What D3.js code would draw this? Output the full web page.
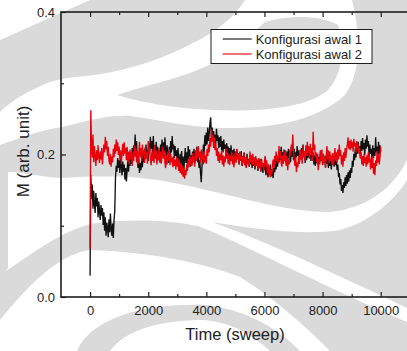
<!DOCTYPE html>
<html>
<head>
<meta charset="utf-8">
<script src="https://cdn.jsdelivr.net/npm/d3@7"></script>
<style>
  html, body { margin: 0; padding: 0; background: #fff; }
  svg { display: block; font-family: "Liberation Sans", Arial, Helvetica, sans-serif; }
</style>
</head>
<body>
<svg id="chart" width="407" height="351"></svg>
<script>
// Magnetisation M against Monte Carlo time, sampled every 25 sweeps (0 ... 10000).
const SAMPLE_STEP = 25;

const awal1 = [
  0.030, 0.172, 0.138, 0.158, 0.124, 0.149, 0.131, 0.118, 0.146, 0.127, 0.139, 0.112, 0.134, 0.121, 0.108, 0.129, 0.114, 0.125, 0.101, 0.119,
  0.093, 0.112, 0.086, 0.104, 0.097, 0.084, 0.109, 0.091, 0.117, 0.095, 0.086, 0.103, 0.083, 0.108, 0.121, 0.168, 0.184, 0.176, 0.195, 0.181,
  0.192, 0.174, 0.198, 0.183, 0.171, 0.190, 0.176, 0.186, 0.165, 0.181, 0.162, 0.178, 0.191, 0.176, 0.197, 0.184, 0.201, 0.187, 0.209, 0.193,
  0.213, 0.198, 0.228, 0.204, 0.219, 0.192, 0.181, 0.196, 0.174, 0.188, 0.178, 0.193, 0.182, 0.201, 0.189, 0.208, 0.193, 0.214, 0.196, 0.207,
  0.191, 0.216, 0.202, 0.225, 0.208, 0.219, 0.197, 0.226, 0.205, 0.213, 0.194, 0.218, 0.201, 0.211, 0.192, 0.206, 0.189, 0.214, 0.198, 0.221,
  0.203, 0.217, 0.196, 0.224, 0.208, 0.192, 0.213, 0.199, 0.188, 0.211, 0.197, 0.219, 0.203, 0.226, 0.207, 0.214, 0.195, 0.212, 0.198, 0.206,
  0.188, 0.209, 0.193, 0.179, 0.201, 0.186, 0.205, 0.182, 0.197, 0.176, 0.194, 0.209, 0.188, 0.203, 0.186, 0.212, 0.194, 0.207, 0.183, 0.199,
  0.185, 0.204, 0.191, 0.208, 0.187, 0.203, 0.195, 0.211, 0.189, 0.199, 0.181, 0.192, 0.174, 0.161, 0.183, 0.198, 0.214, 0.203, 0.227, 0.212,
  0.231, 0.214, 0.238, 0.219, 0.229, 0.244, 0.252, 0.226, 0.238, 0.218, 0.233, 0.212, 0.228, 0.215, 0.236, 0.219, 0.227, 0.209, 0.224, 0.211,
  0.226, 0.206, 0.219, 0.203, 0.221, 0.208, 0.214, 0.197, 0.216, 0.202, 0.211, 0.195, 0.209, 0.198, 0.213, 0.194, 0.206, 0.191, 0.208, 0.196,
  0.204, 0.189, 0.207, 0.193, 0.202, 0.186, 0.199, 0.191, 0.205, 0.184, 0.198, 0.188, 0.203, 0.185, 0.196, 0.182, 0.201, 0.189, 0.194, 0.183,
  0.199, 0.186, 0.193, 0.181, 0.197, 0.184, 0.191, 0.179, 0.195, 0.186, 0.192, 0.177, 0.188, 0.181, 0.194, 0.176, 0.189, 0.183, 0.174, 0.186,
  0.178, 0.189, 0.171, 0.184, 0.175, 0.168, 0.182, 0.172, 0.186, 0.169, 0.179, 0.173, 0.167, 0.181, 0.175, 0.188, 0.179, 0.194, 0.183, 0.198,
  0.189, 0.206, 0.192, 0.211, 0.196, 0.203, 0.188, 0.207, 0.193, 0.199, 0.186, 0.204, 0.191, 0.208, 0.195, 0.202, 0.189, 0.211, 0.197, 0.205,
  0.192, 0.208, 0.189, 0.203, 0.196, 0.212, 0.198, 0.206, 0.187, 0.201, 0.194, 0.209, 0.197, 0.214, 0.199, 0.205, 0.188, 0.203, 0.192, 0.208,
  0.195, 0.211, 0.198, 0.206, 0.191, 0.209, 0.196, 0.203, 0.186, 0.199, 0.184, 0.197, 0.188, 0.201, 0.185, 0.196, 0.189, 0.204, 0.191, 0.199,
  0.186, 0.201, 0.188, 0.197, 0.182, 0.199, 0.187, 0.194, 0.181, 0.196, 0.184, 0.192, 0.179, 0.194, 0.186, 0.198, 0.183, 0.193, 0.185, 0.191,
  0.178, 0.186, 0.168, 0.174, 0.158, 0.166, 0.149, 0.157, 0.146, 0.161, 0.153, 0.168, 0.156, 0.171, 0.159, 0.175, 0.162, 0.178, 0.167, 0.181,
  0.174, 0.191, 0.183, 0.201, 0.192, 0.209, 0.196, 0.214, 0.201, 0.218, 0.204, 0.212, 0.196, 0.219, 0.205, 0.223, 0.207, 0.216, 0.199, 0.221,
  0.208, 0.227, 0.211, 0.219, 0.197, 0.214, 0.201, 0.208, 0.192, 0.213, 0.195, 0.209, 0.198, 0.224, 0.203, 0.211, 0.196, 0.218, 0.201, 0.213,
  0.204
];

const awal2 = [
  0.068, 0.262, 0.214, 0.196, 0.228, 0.189, 0.212, 0.198, 0.184, 0.206, 0.192, 0.213, 0.197, 0.188, 0.204, 0.193, 0.209, 0.186, 0.201, 0.214,
  0.203, 0.225, 0.207, 0.219, 0.198, 0.211, 0.192, 0.186, 0.201, 0.183, 0.197, 0.189, 0.208, 0.196, 0.214, 0.201, 0.221, 0.205, 0.217, 0.199,
  0.211, 0.193, 0.206, 0.187, 0.203, 0.215, 0.198, 0.217, 0.201, 0.209, 0.192, 0.211, 0.189, 0.204, 0.186, 0.207, 0.193, 0.201, 0.184, 0.203,
  0.191, 0.213, 0.197, 0.208, 0.189, 0.205, 0.186, 0.201, 0.218, 0.196, 0.209, 0.191, 0.214, 0.199, 0.206, 0.188, 0.211, 0.195, 0.203, 0.187,
  0.219, 0.201, 0.209, 0.193, 0.185, 0.203, 0.191, 0.207, 0.188, 0.213, 0.197, 0.206, 0.186, 0.201, 0.192, 0.209, 0.189, 0.204, 0.187, 0.198,
  0.211, 0.194, 0.206, 0.188, 0.181, 0.199, 0.186, 0.203, 0.191, 0.207, 0.185, 0.201, 0.189, 0.196, 0.182, 0.198, 0.184, 0.193, 0.179, 0.196,
  0.183, 0.195, 0.177, 0.191, 0.174, 0.188, 0.172, 0.184, 0.169, 0.181, 0.166, 0.178, 0.171, 0.186, 0.177, 0.193, 0.182, 0.198, 0.185, 0.196,
  0.184, 0.202, 0.189, 0.197, 0.183, 0.206, 0.191, 0.209, 0.194, 0.212, 0.196, 0.204, 0.188, 0.207, 0.192, 0.201, 0.186, 0.205, 0.189, 0.199,
  0.187, 0.208, 0.198, 0.214, 0.203, 0.223, 0.211, 0.235, 0.218, 0.228, 0.209, 0.224, 0.206, 0.215, 0.198, 0.209, 0.191, 0.204, 0.188, 0.201,
  0.192, 0.206, 0.186, 0.199, 0.183, 0.197, 0.189, 0.209, 0.194, 0.203, 0.187, 0.201, 0.185, 0.198, 0.191, 0.204, 0.186, 0.199, 0.182, 0.195,
  0.203, 0.189, 0.208, 0.194, 0.201, 0.186, 0.204, 0.191, 0.199, 0.184, 0.197, 0.188, 0.202, 0.185, 0.195, 0.181, 0.198, 0.186, 0.193, 0.183,
  0.204, 0.189, 0.199, 0.185, 0.201, 0.186, 0.196, 0.182, 0.198, 0.184, 0.193, 0.179, 0.195, 0.181, 0.191, 0.177, 0.194, 0.183, 0.188, 0.176,
  0.191, 0.198, 0.183, 0.192, 0.174, 0.187, 0.171, 0.183, 0.168, 0.179, 0.172, 0.186, 0.193, 0.181, 0.198, 0.186, 0.204, 0.191, 0.199, 0.187,
  0.212, 0.196, 0.205, 0.188, 0.183, 0.199, 0.187, 0.203, 0.191, 0.206, 0.184, 0.198, 0.178, 0.193, 0.186, 0.207, 0.198, 0.214, 0.205, 0.228,
  0.203, 0.192, 0.184, 0.196, 0.175, 0.189, 0.182, 0.197, 0.188, 0.207, 0.193, 0.201, 0.187, 0.212, 0.196, 0.205, 0.191, 0.213, 0.198, 0.218,
  0.201, 0.211, 0.194, 0.215, 0.199, 0.208, 0.191, 0.232, 0.206, 0.214, 0.196, 0.203, 0.189, 0.201, 0.178, 0.194, 0.186, 0.206, 0.192, 0.207,
  0.185, 0.201, 0.189, 0.196, 0.181, 0.198, 0.212, 0.193, 0.206, 0.188, 0.204, 0.191, 0.199, 0.186, 0.202, 0.184, 0.197, 0.209, 0.192, 0.203,
  0.189, 0.207, 0.193, 0.214, 0.198, 0.206, 0.186, 0.199, 0.183, 0.203, 0.191, 0.209, 0.195, 0.207, 0.213, 0.224, 0.208, 0.219, 0.206, 0.221,
  0.209, 0.218, 0.204, 0.222, 0.211, 0.216, 0.203, 0.219, 0.207, 0.214, 0.201, 0.209, 0.194, 0.203, 0.186, 0.198, 0.184, 0.201, 0.188, 0.196,
  0.183, 0.199, 0.186, 0.203, 0.189, 0.196, 0.179, 0.193, 0.181, 0.198, 0.173, 0.188, 0.171, 0.192, 0.184, 0.205, 0.189, 0.201, 0.186, 0.197,
  0.211
];

const seriesNames = ["Konfigurasi awal 1", "Konfigurasi awal 2"];
const seriesColors = ["#111111", "#e8000b"];

const xMajorTicks = [0, 2000, 4000, 6000, 8000, 10000];
const xMinorTicks = [1000, 3000, 5000, 7000, 9000];
const yMajorTicks = [0.0, 0.2, 0.4];
const yMinorTicks = [0.1, 0.3];

const xTitle = "Time (sweep)";
const yTitle = "M (arb. unit)";

// ---------------------------------------------------------------
const svg = d3.select("#chart");
const plot = { left: 61, top: 12, bottom: 297, right: 409.8 };

const x = d3.scaleLinear().domain([-1000, 11000]).range([plot.left, plot.right]);
const y = d3.scaleLinear().domain([0, 0.4]).range([plot.bottom, plot.top]);

// Light grey page watermark behind the figure
const wm = svg.append("g").attr("fill", "#dadada").attr("stroke", "none");
const watermark = [
  // wide diagonal band across the top-left
  "M90,0 L245,0 C232,20 215,32 195,42 C165,58 130,70 95,75 C75,77 63,78 50,82 C30,90 12,100 0,112 L0,40 Z",
  // enclosed tongue under the legend
  "M117,95 C150,84 190,76 215,62 C235,50 250,35 265,22 C290,15 320,15 338,25 C345,50 342,75 328,90 C308,108 260,112 212,110 C170,108 140,102 117,95 Z",
  // right-hand field, the band behind the traces and the left-edge strip
  "M352,0 L407,0 L407,160 C395,185 370,208 330,212 C290,212 250,200 215,192 C185,185 160,179 130,177 C100,176 75,177 63,178 C45,178 25,172 8,172 L8,268 L0,280 L0,145 C20,138 40,130 63,127 C90,120 110,115 130,116 C160,120 190,128 230,128 C280,128 320,118 345,95 C360,75 362,40 352,0 Z",
  // wedge between the two white sweeps on the right
  "M212,222 C250,228 300,236 340,230 C370,222 395,200 407,180 L407,308 C370,290 330,272 300,258 C270,245 240,232 212,222 Z",
  // lower band rising from the left edge
  "M0,275 C30,255 60,232 90,224 C130,218 170,220 198,226 C240,242 320,285 407,322 L407,351 L330,351 C300,320 262,290 240,277 C200,262 150,252 90,250 C55,255 25,290 0,320 Z",
  // arch at the bottom
  "M77,351 C90,320 140,303 204,305 C240,308 275,325 300,351 L270,351 C250,333 230,322 204,320 C160,320 125,330 110,351 Z"
];
wm.selectAll("path").data(watermark).join("path").attr("d", d => d);

// Traces
const line = d3.line()
  .x((d, i) => x(i * SAMPLE_STEP))
  .y(d => y(d));

const traces = svg.append("g").attr("fill", "none");
[awal1, awal2].forEach((vals, k) => {
  traces.append("path")
    .datum(vals)
    .attr("d", line)
    .attr("stroke", seriesColors[k])
    .attr("stroke-width", 1.35)
    .attr("stroke-linejoin", "miter");
});

// Frame
svg.append("rect")
  .attr("x", plot.left).attr("y", plot.top)
  .attr("width", plot.right - plot.left).attr("height", plot.bottom - plot.top)
  .attr("fill", "none").attr("stroke", "#1e1e1e").attr("stroke-width", 1.6);

// Axes with inward ticks
function styleAxis(g) {
  g.select(".domain").remove();
  g.selectAll("line").attr("stroke", "#1e1e1e").attr("stroke-width", 1.2);
  g.selectAll("text").attr("fill", "#222").attr("font-size", 13)
    .attr("font-family", "'Liberation Sans', Arial, sans-serif");
}

svg.append("g").attr("transform", `translate(0,${plot.bottom})`)
  .call(d3.axisBottom(x).tickValues(xMajorTicks).tickSize(-5).tickPadding(8.6).tickFormat(d3.format("d")))
  .call(styleAxis);
svg.append("g").attr("transform", `translate(0,${plot.bottom})`)
  .call(d3.axisBottom(x).tickValues(xMinorTicks).tickSize(-3).tickFormat(""))
  .call(styleAxis);
svg.append("g").attr("transform", `translate(0,${plot.top})`)
  .call(d3.axisTop(x).tickValues(xMajorTicks).tickSize(-5).tickFormat(""))
  .call(styleAxis);
svg.append("g").attr("transform", `translate(0,${plot.top})`)
  .call(d3.axisTop(x).tickValues(xMinorTicks).tickSize(-3).tickFormat(""))
  .call(styleAxis);

svg.append("g").attr("transform", `translate(${plot.left},0)`)
  .call(d3.axisLeft(y).tickValues(yMajorTicks).tickSize(-5).tickPadding(6).tickFormat(d3.format(".1f")))
  .call(styleAxis);
svg.append("g").attr("transform", `translate(${plot.left},0)`)
  .call(d3.axisLeft(y).tickValues(yMinorTicks).tickSize(-3).tickFormat(""))
  .call(styleAxis);

// Axis titles
svg.append("text")
  .attr("x", 235).attr("y", 340)
  .attr("text-anchor", "middle")
  .attr("font-size", 16.5).attr("fill", "#222")
  .text(xTitle);

svg.append("text")
  .attr("transform", "translate(29,151.5) rotate(-90)")
  .attr("text-anchor", "middle")
  .attr("font-size", 17).attr("fill", "#222")
  .text(yTitle);

// Legend
const legend = svg.append("g").attr("transform", "translate(211,29.5)");
legend.append("rect")
  .attr("width", 161).attr("height", 34)
  .attr("fill", "#fff").attr("stroke", "#1e1e1e").attr("stroke-width", 1);
seriesNames.forEach((name, k) => {
  const row = legend.append("g").attr("transform", `translate(0,${9.5 + k * 15})`);
  row.append("line")
    .attr("x1", 11.7).attr("x2", 40.7)
    .attr("stroke", seriesColors[k]).attr("stroke-width", 1.5).attr("stroke-opacity", 0.75);
  row.append("text")
    .attr("x", 44.7).attr("y", 4.6)
    .attr("font-size", 13).attr("fill", "#222")
    .text(name);
});
</script>
</body>
</html>
